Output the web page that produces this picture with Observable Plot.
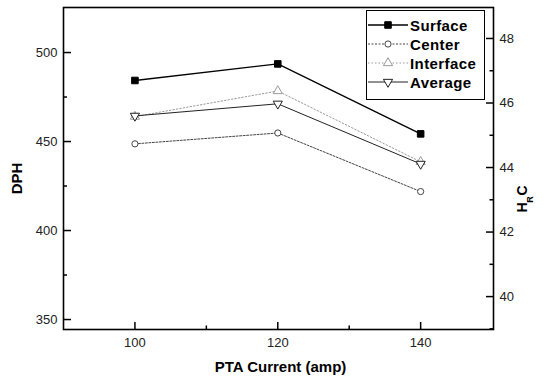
<!DOCTYPE html>
<html><head><meta charset="utf-8">
<script src="https://cdn.jsdelivr.net/npm/d3@7"></script>
<script src="https://cdn.jsdelivr.net/npm/@observablehq/plot@0.6"></script>
<style>
body{margin:0;background:#fff;font-family:"Liberation Sans",Arial,sans-serif;}
#wrap{position:relative;width:546px;height:380px;}
#legend{position:absolute;left:366px;top:10px;width:119px;height:90px;border:1px solid #000;background:#fff;box-sizing:border-box;}
.row{position:absolute;left:0;height:18px;display:flex;align-items:center;}
.row span{font-weight:bold;font-size:15px;letter-spacing:0.4px;color:#000;margin-left:1px;}
</style></head><body><div id="wrap"><div id="legend"></div></div>
<script>
// ---- data ----
const currents = [100, 120, 140];
const surface = [484.3, 493.6, 454.3];
const center = [448.7, 454.8, 421.9];
const interfaceVals = [464.0, 478.4, 438.6];
const average = [464.4, 471.2, 437.4];
const seriesNames = ["Surface", "Center", "Interface", "Average"];
const xTicks = [100, 120, 140];
const xMinor = [110, 130];
const dphTicks = [350, 400, 450, 500];
const dphMinor = [375, 425, 475];
const hrcTicks = [40, 42, 44, 46, 48];
const hrcMinor = [39, 41, 43, 45, 47];

const seriesValues = [surface, center, interfaceVals, average];
const table = seriesNames.flatMap((s, k) => currents.map((c, i) => ({series: s, current: c, value: seriesValues[k][i]})));

// ---- layout ----
const W = 546, H = 380, mL = 63, mR = 53, mT = 7, mB = 51;
const fw = W - mL - mR, fh = H - mT - mB;
const dphDomain = [344.4, 525.3];
const hrcDomain = [38.98, 48.96];
const hrcToDph = d3.scaleLinear().domain(hrcDomain).range(dphDomain);

const triDown = {draw(ctx, size) {
  const s3 = Math.sqrt(3);
  const y = -Math.sqrt(size / (s3 * 3));
  ctx.moveTo(0, -y * 2);
  ctx.lineTo(-s3 * y, y);
  ctx.lineTo(s3 * y, y);
  ctx.closePath();
}};

const styles = {
  Surface: {stroke: "#000", width: 1.3, dash: null, symbol: "square", fill: "#000", r: 3.7},
  Center: {stroke: "#444", width: 1, dash: "2,1.5", symbol: "circle", fill: "white", r: 3.1},
  Interface: {stroke: "#9a9a9a", width: 1, dash: "1.5,2", symbol: "triangle", fill: "white", r: 3.4},
  Average: {stroke: "#222", width: 1, dash: null, symbol: triDown, fill: "white", r: 3.4}
};

const marks = [];
for (const s of seriesNames) {
  const st = styles[s];
  const data = table.filter(d => d.series === s);
  marks.push(Plot.line(data, {x: "current", y: "value", stroke: st.stroke, strokeWidth: st.width, strokeDasharray: st.dash}));
}
for (const s of seriesNames) {
  const st = styles[s];
  const data = table.filter(d => d.series === s);
  marks.push(Plot.dot(data, {x: "current", y: "value", symbol: st.symbol, r: st.r, fill: st.fill, stroke: st.stroke, strokeWidth: 1}));
}

const chart = Plot.plot({
  width: W, height: H,
  marginLeft: mL, marginRight: mR, marginTop: mT, marginBottom: mB,
  style: {fontFamily: "Liberation Sans, Arial, sans-serif", fontSize: "13px", background: "white", color: "#222", overflow: "visible"},
  x: {domain: [90, 150.2]},
  y: {domain: dphDomain},
  marks: [
    ...marks,
    // inward ticks
    Plot.tickX(xTicks, {x: d => d, insetTop: fh - 7, stroke: "#000", strokeWidth: 1.5}),
    Plot.tickX(xMinor, {x: d => d, insetTop: fh - 3.5, stroke: "#000", strokeWidth: 1.5}),
    Plot.tickY(dphTicks, {y: d => d, insetRight: fw - 8, stroke: "#000", strokeWidth: 1.5}),
    Plot.tickY(dphMinor, {y: d => d, insetRight: fw - 4, stroke: "#000", strokeWidth: 1.5}),
    Plot.tickY(hrcTicks.map(hrcToDph), {y: d => d, insetLeft: fw - 7, stroke: "#000", strokeWidth: 1.5}),
    Plot.tickY(hrcMinor.map(hrcToDph), {y: d => d, insetLeft: fw - 3.5, stroke: "#000", strokeWidth: 1.5}),
    // tick labels
    Plot.axisX(xTicks, {tickSize: 0, tickPadding: 8, label: null, fontSize: 13, fill: "#222"}),
    Plot.axisY(dphTicks, {anchor: "left", tickSize: 0, tickPadding: 6, label: null, fontSize: 13, fill: "#222"}),
    Plot.axisY(hrcTicks.map(hrcToDph), {anchor: "right", tickSize: 0, tickPadding: 6, label: null, fontSize: 13, fill: "#222", tickFormat: (d, i) => hrcTicks[i]}),
    Plot.frame({stroke: "#000", strokeWidth: 1.6}),
    // axis titles
    Plot.text(["PTA Current (amp)"], {text: d => d, frameAnchor: "bottom", textAnchor: "middle", lineAnchor: "middle", dx: 2, dy: 38, fontWeight: "bold", fontSize: 15, fill: "#000"}),
    Plot.text(["DPH"], {text: d => d, frameAnchor: "left", textAnchor: "middle", lineAnchor: "middle", rotate: -90, dx: -46, dy: 10, fontWeight: "bold", fontSize: 15, fill: "#000"}),
    Plot.text(["H"], {text: d => d, frameAnchor: "right", textAnchor: "middle", lineAnchor: "middle", rotate: -90, dx: 29, dy: 39, fontWeight: "bold", fontSize: 14, fill: "#000"}),
    Plot.text(["R"], {text: d => d, frameAnchor: "right", textAnchor: "middle", lineAnchor: "middle", rotate: -90, dx: 37, dy: 31, fontWeight: "bold", fontSize: 9, fill: "#000"}),
    Plot.text(["C"], {text: d => d, frameAnchor: "right", textAnchor: "middle", lineAnchor: "middle", rotate: -90, dx: 29, dy: 22, fontWeight: "bold", fontSize: 14, fill: "#000"})
  ]
});
document.getElementById("wrap").prepend(chart);

// legend
const legend = d3.select("#legend");
seriesNames.forEach((s, i) => {
  const st = styles[s];
  const row = legend.append("div").attr("class", "row").style("top", (5 + i * 19) + "px");
  const svg = row.append("svg").attr("width", 42).attr("height", 18);
  svg.append("line").attr("x1", 1).attr("x2", 41).attr("y1", 9).attr("y2", 9)
    .attr("stroke", st.stroke).attr("stroke-width", st.width).attr("stroke-dasharray", st.dash);
  const sym = typeof st.symbol === "string" ? {square: d3.symbolSquare, circle: d3.symbolCircle, triangle: d3.symbolTriangle}[st.symbol] : st.symbol;
  svg.append("path").attr("transform", "translate(21,9)")
    .attr("d", d3.symbol(sym, st.r * st.r * Math.PI)())
    .attr("fill", st.fill).attr("stroke", st.stroke);
  row.append("span").text(s);
});
</script>
</body></html>
